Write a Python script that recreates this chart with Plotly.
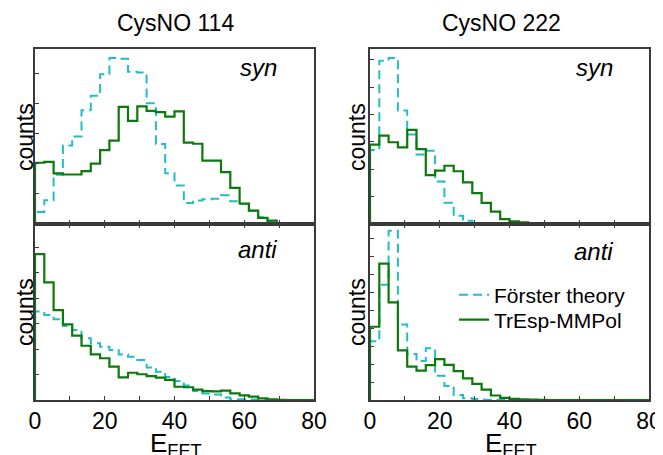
import plotly.graph_objects as go

# ---------------- data (30 bins spanning 0..80) ----------------
n_bins = 30
x_max = 80.0
bin_edges = [k * x_max / n_bins for k in range(n_bins + 1)]

tl_forster = [40, 79, 163, 260, 290, 377, 425, 496, 550, 548, 505, 502, 400, 265, 168,
              128, 70, 78, 82, 84, 95, 75, 66, 44, 22, 8, 2, 0, 0, 0]
tl_tresp = [203, 206, 168, 164, 164, 175, 200, 245, 276, 388, 342, 390, 375, 371, 356,
            373, 270, 266, 210, 210, 172, 120, 68, 44, 20, 11, 3, 2, 1, 0]

tr_forster = [271, 597, 607, 415, 327, 254, 268, 155, 78, 30, 12, 4, 1, 0, 0,
              0, 0, 0, 0, 0, 0, 0, 0, 0, 0, 0, 0, 0, 0, 0]
tr_tresp = [290, 323, 299, 280, 344, 274, 179, 195, 213, 193, 152, 113, 77, 45, 18,
            10, 6, 2, 1, 1, 2, 1, 0, 0, 0, 0, 0, 0, 0, 0]

bl_forster = [347, 334, 317, 291, 275, 242, 223, 209, 196, 179, 170, 157, 128, 111, 90,
              75, 57, 35, 26, 22, 10, 3, 3, 2, 0, 0, 0, 0, 0, 0]
bl_tresp = [573, 462, 353, 297, 253, 213, 179, 164, 131, 89, 107, 101, 94, 88, 79,
            52, 50, 41, 35, 34, 37, 26, 18, 13, 6, 3, 1, 0, 0, 0]

br_forster = [326, 640, 940, 420, 255, 217, 287, 135, 78, 28, 10, 5, 2, 0, 0,
              0, 0, 0, 0, 0, 0, 0, 0, 0, 0, 0, 0, 0, 0, 0]
br_tresp = [407, 758, 543, 276, 185, 163, 194, 227, 195, 160, 120, 90, 58, 25, 12,
            6, 3, 2, 1, 0, 0, 0, 0, 0, 0, 0, 0, 0, 0, 0]

column_titles = ["CysNO 114", "CysNO 222"]
row_labels = ["syn", "anti"]
series_names = ["Förster theory", "TrEsp-MMPol"]
y_tops = [580, 640, 691, 978]

# ---------------- styling ----------------
# the page body has an 8 px margin, so the figure is drawn 8 px in from the
# window's top-left corner; positions below are given in window pixels.
PAGE_W, PAGE_H = 663, 455
OFF = 8
W, H = PAGE_W - OFF, PAGE_H - OFF
FONT = "Liberation Sans, Arial, sans-serif"
CYAN = "#22bdc6"
GREEN = "#0b7a0b"
AXC = "#3a3a3a"

def px_x(p):
    return (p - OFF) / W

def px_y(p):
    return 1 - (p - OFF) / H

x_dom = [[px_x(35), px_x(314)], [px_x(370), px_x(649)]]
y_dom = [[px_y(224), px_y(49)], [px_y(400), px_y(224)]]

def step_xy(vals):
    xs = [0.0] + bin_edges
    ys = [0] + list(vals) + [vals[-1]]
    return xs, ys

fig = go.Figure()

panels = [
    (tl_forster, tl_tresp),
    (tr_forster, tr_tresp),
    (bl_forster, bl_tresp),
    (br_forster, br_tresp),
]

for i, (fo, tr) in enumerate(panels):
    ax = "" if i == 0 else str(i + 1)
    show = (i == 3)
    xs, ys = step_xy(fo)
    fig.add_trace(go.Scatter(x=xs, y=ys, mode="lines", line_shape="hv",
                             line=dict(color=CYAN, width=2, dash="9px,5px"),
                             name=series_names[0], showlegend=show, legend="legend",
                             xaxis="x" + ax, yaxis="y" + ax))
    xs, ys = step_xy(tr)
    fig.add_trace(go.Scatter(x=xs, y=ys, mode="lines", line_shape="hv",
                             line=dict(color=GREEN, width=2.2),
                             name=series_names[1], showlegend=show, legend="legend2",
                             xaxis="x" + ax, yaxis="y" + ax))

legend_common = dict(xanchor="left", yanchor="middle", bgcolor="rgba(0,0,0,0)",
                     font=dict(size=21, family=FONT, color="black"), itemwidth=30)

layout = dict(
    width=W, height=H,
    margin=dict(l=0, r=0, t=0, b=0, autoexpand=False),
    paper_bgcolor="white", plot_bgcolor="white",
    font=dict(family=FONT, size=23, color="black"),
    legend=dict(x=px_x(454), y=px_y(295), **legend_common),
    legend2=dict(x=px_x(454), y=px_y(320), **legend_common),
)

for i in range(4):
    col = i % 2
    row = i // 2
    ax = "" if i == 0 else str(i + 1)
    layout["xaxis" + ax] = dict(
        domain=x_dom[col], range=[0, x_max], anchor="y" + ax,
        showline=True, linecolor=AXC, linewidth=1.5,
        mirror="ticks" if row == 1 else True,
        ticks="inside", ticklen=4, tickcolor=AXC, tickwidth=1,
        tick0=0, dtick=20,
        minor=dict(dtick=10, tick0=0, ticks="inside", ticklen=4,
                   tickcolor=AXC, tickwidth=1, showgrid=False),
        showticklabels=(row == 1), showgrid=False, zeroline=False,
        automargin=False,
        tickfont=dict(size=23, family=FONT),
    )
    layout["yaxis" + ax] = dict(
        domain=y_dom[row], range=[0, y_tops[i]], anchor="x" + ax,
        showline=True, linecolor=AXC, linewidth=1.5, mirror=True,
        ticks="inside", ticklen=4, tickcolor=AXC, tickwidth=1,
        dtick=100, tick0=0, showticklabels=False, automargin=False,
        showgrid=False, zeroline=False,
    )

fig.update_layout(**layout)

ann = []
# column titles
for txt, cx in zip(column_titles, [175, 501]):
    ann.append(dict(text=txt, x=px_x(cx), y=px_y(23), xref="paper", yref="paper",
                    showarrow=False, xanchor="center", yanchor="middle",
                    font=dict(size=23, family=FONT)))
# syn / anti labels
for (lab, cx, cy) in [("syn", 258, 67), ("syn", 594, 67), ("anti", 257, 250), ("anti", 593, 251)]:
    ann.append(dict(text="<i>" + lab + "</i>", x=px_x(cx), y=px_y(cy),
                    xref="paper", yref="paper", showarrow=False,
                    xanchor="center", yanchor="middle",
                    font=dict(size=24, family=FONT)))
# y titles
for cx in [25, 357]:
    for cy in [137, 312]:
        ann.append(dict(text="counts", x=px_x(cx), y=px_y(cy), xref="paper",
                        yref="paper", showarrow=False, textangle=-90,
                        xanchor="center", yanchor="middle",
                        font=dict(size=23, family=FONT)))
# x titles
for cx in [176, 511]:
    ann.append(dict(text="E<sub>FET</sub>", x=px_x(cx), y=px_y(444), xref="paper",
                    yref="paper", showarrow=False, xanchor="center",
                    yanchor="middle", font=dict(size=26, family=FONT)))

fig.update_layout(annotations=ann)

fig.write_html("out.html")
